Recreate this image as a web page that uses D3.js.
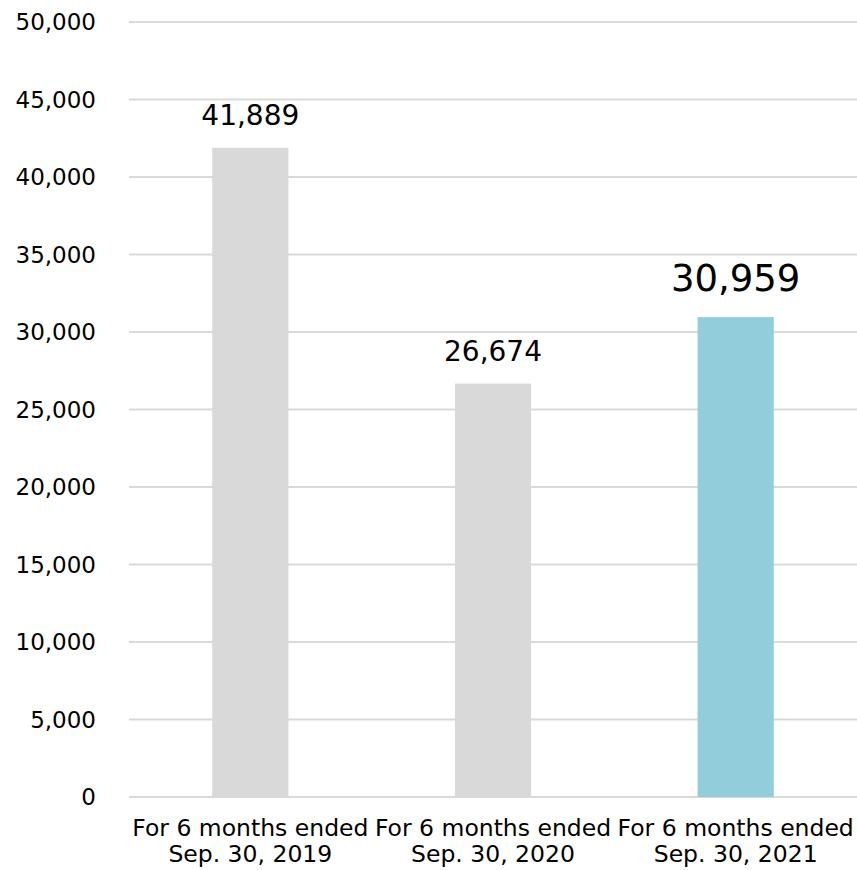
<!DOCTYPE html>
<html><head><meta charset="utf-8">
<script src="https://cdn.jsdelivr.net/npm/d3@7"></script>
<style>body{margin:0;background:#fff}svg{display:block}text{font-family:"DejaVu Sans",Verdana,sans-serif;fill:#000}</style>
</head><body><svg id="c" width="857" height="870"></svg>
<script>
const categories = ["For 6 months ended|Sep. 30, 2019","For 6 months ended|Sep. 30, 2020","For 6 months ended|Sep. 30, 2021"];
const values = [41889, 26674, 30959];
const colors = ["#d9d9d9","#d9d9d9","#92cddc"];
const labelSizes = [28, 28, 37];
const yTicks = [0,5000,10000,15000,20000,25000,30000,35000,40000,45000,50000];

const svg = d3.select("#c");
const m = {left:129, right:857, top:22, bottom:797};
const x = d3.scaleBand().domain(categories).range([m.left, m.right]).paddingInner(0.686).paddingOuter(0.343);
const y = d3.scaleLinear().domain([0,50000]).range([m.bottom, m.top]);
const fmt = d3.format(",");

svg.append("g").selectAll("line").data(yTicks).join("line")
  .attr("x1", m.left).attr("x2", m.right)
  .attr("y1", d=>y(d)).attr("y2", d=>y(d))
  .attr("stroke","#d9d9d9").attr("stroke-width",2);

svg.append("g").selectAll("text").data(yTicks).join("text")
  .attr("x", 96).attr("y", d=>y(d)).attr("dy","0.36em")
  .attr("text-anchor","end").attr("font-size",23).text(d=>fmt(d));

svg.append("g").selectAll("rect").data(values).join("rect")
  .attr("x",(d,i)=>x(categories[i])).attr("width",x.bandwidth())
  .attr("y",d=>y(d)).attr("height",d=>y(0)-y(d))
  .attr("fill",(d,i)=>colors[i]);

svg.append("g").selectAll("text").data(values).join("text")
  .attr("x",(d,i)=>x(categories[i])+x.bandwidth()/2)
  .attr("y",(d,i)=>y(d)-(i===2?26:23))
  .attr("text-anchor","middle").attr("font-size",(d,i)=>labelSizes[i])
  .text(d=>fmt(d));

const cl = svg.append("g").selectAll("text").data(categories).join("text")
  .attr("x",d=>x(d)+x.bandwidth()/2).attr("text-anchor","middle").attr("font-size",23.5);
cl.each(function(d){
  const t = d3.select(this);
  d.split("|").forEach((s,i)=>t.append("tspan").attr("x",x(d)+x.bandwidth()/2).attr("y",836+i*26).text(s));
});
</script></body></html>
